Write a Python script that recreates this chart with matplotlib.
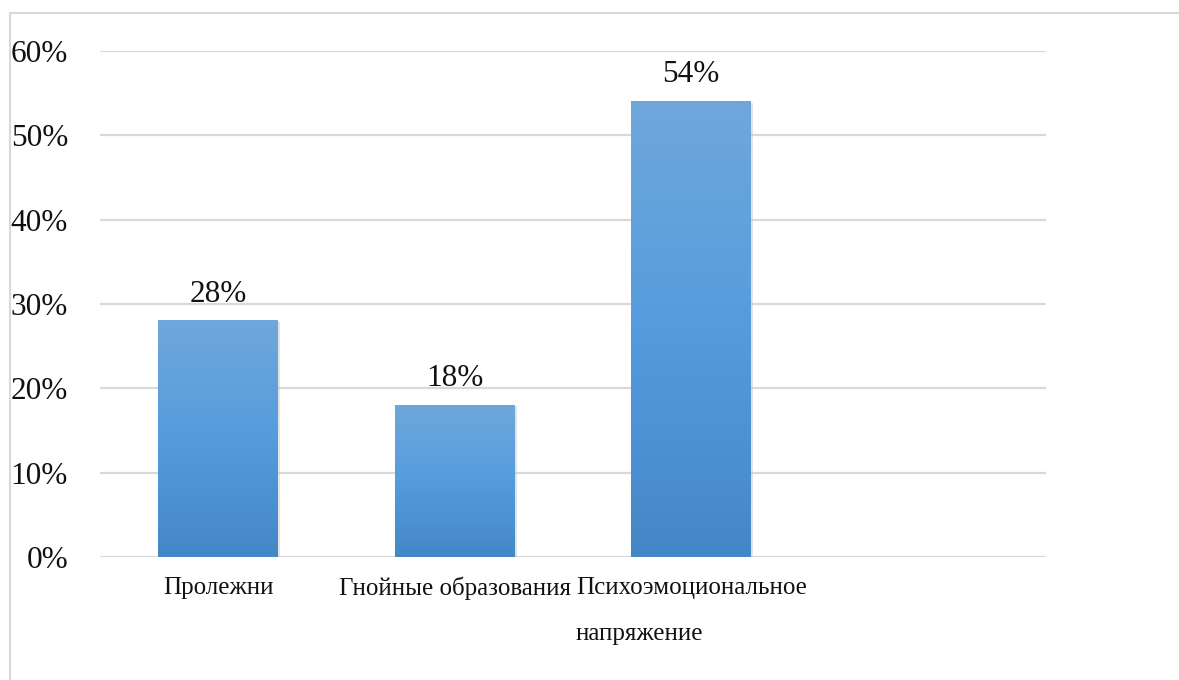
import numpy as np
import matplotlib.pyplot as plt
from matplotlib.colors import LinearSegmentedColormap
from matplotlib.lines import Line2D

categories = ["Пролежни", "Гнойные образования", "Психоэмоциональное\nнапряжение", ""]
values = [28, 18, 54]
yticks = [0, 10, 20, 30, 40, 50, 60]
ytick_labels = ["0%", "10%", "20%", "30%", "40%", "50%", "60%"]

plt.rcParams['font.family'] = ['Liberation Serif', 'DejaVu Serif']

fig = plt.figure(figsize=(11.79, 6.8), dpi=100)
ax = fig.add_axes([100 / 1179, 1 - 557 / 680, 946 / 1179, 506 / 680])

bar_w = 0.507
grad = LinearSegmentedColormap.from_list(
    "bar", ["#4487c7", "#559cdd", "#6fa7db"])
gimg = np.linspace(0, 1, 256).reshape(-1, 1)

for i, v in enumerate(values):
    x0, x1 = i - bar_w / 2, i + bar_w / 2
    # soft shadow
    ax.bar(i + 0.004, v, width=bar_w + 0.01, bottom=-0.15, color="#c8c8c8",
           alpha=0.5, zorder=2, linewidth=0)
    ax.imshow(gimg, cmap=grad, origin="lower", aspect="auto",
              extent=(x0, x1, 0, v), zorder=3, interpolation="bilinear")
    ax.text(i, v + 1.45, f"{v}%", ha="center", va="bottom", fontsize=22.5,
            color="#111111", zorder=4)

ax.set_xlim(-0.5, len(categories) - 0.5)
ax.set_ylim(0, 60)
ax.set_yticks(yticks)
ax.set_yticklabels(ytick_labels, fontsize=22.5, color="#111111")
ax.set_xticks([])
ax.grid(axis="y", color="#d9d9d9", linewidth=1.6, zorder=0)
ax.set_axisbelow(True)
for s in ax.spines.values():
    s.set_visible(False)
ax.tick_params(axis="y", length=0, pad=23)

for i, c in enumerate(categories):
    if c:
        ax.text(i, -2.35, c, ha="center", va="top", fontsize=18,
                multialignment="left", linespacing=2.4, color="#111111",
                transform=ax.transData, clip_on=False)

# outer frame (left and top edges)
fig.add_artist(Line2D([10 / 1179, 10 / 1179], [0, 1 - 13 / 680],
                      transform=fig.transFigure, color="#d9d9d9", linewidth=1.5))
fig.add_artist(Line2D([10 / 1179, 1], [1 - 13 / 680, 1 - 13 / 680],
                      transform=fig.transFigure, color="#d9d9d9", linewidth=1.5))

fig.savefig("out.png", dpi=100, facecolor="white")
